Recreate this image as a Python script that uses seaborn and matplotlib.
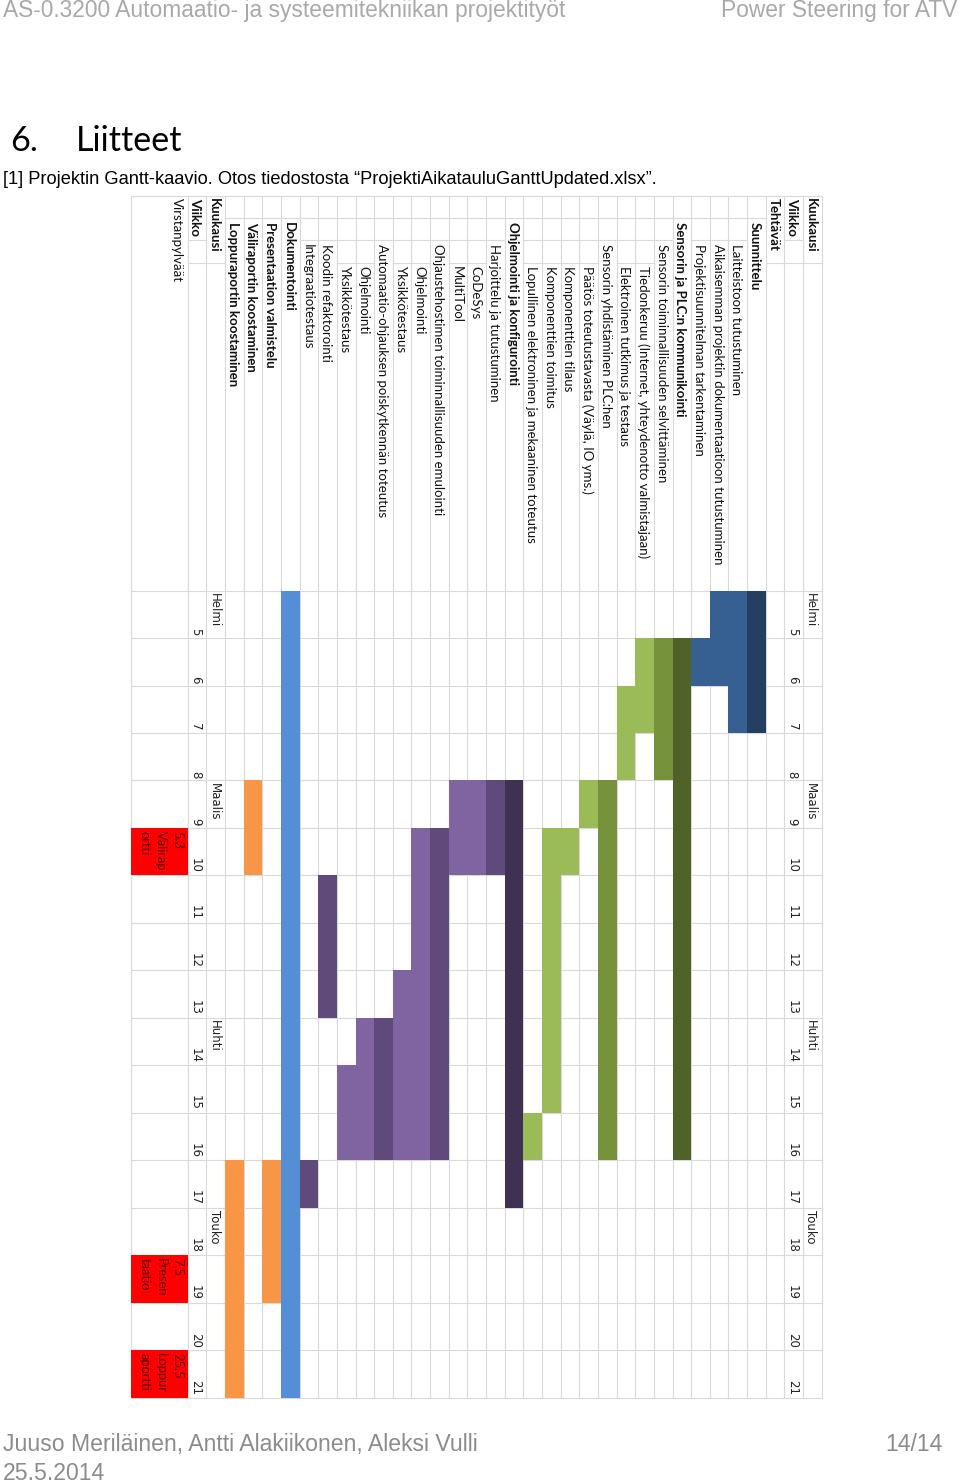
import numpy as np
import pandas as pd
import matplotlib
matplotlib.use("Agg")
import matplotlib.pyplot as plt
from matplotlib.colors import ListedColormap
import seaborn as sns

sns.set_theme(style="white")
plt.rcParams['font.family'] = ['Lato', 'DejaVu Sans']

# ---------------- data ----------------
weeks = list(range(5, 22))
months = ["Helmi", "Maalis", "Huhti", "Touko"]
month_start_weeks = [5, 9, 14, 18]

tasks = [
    "Suunnittelu",
    "Laitteistoon tutustuminen",
    "Aikaisemman projektin dokumentaatioon tutustuminen",
    "Projektisuunnitelman tarkentaminen",
    "Sensorin ja PLC:n kommunikointi",
    "Sensorin toiminnallisuuden selvittäminen",
    "Tiedonkeruu (Internet, yhteydenotto valmistajaan)",
    "Elektroinen tutkimus ja testaus",
    "Sensorin yhdistäminen PLC:hen",
    "Päätös toteutustavasta (Väylä, IO yms.)",
    "Komponenttien tilaus",
    "Komponenttien toimitus",
    "Lopullinen elektroninen ja mekaaninen toteutus",
    "Ohjelmointi ja konfigurointi",
    "Harjoittelu ja tutustuminen",
    "CoDeSys",
    "MultiTool",
    "Ohjaustehostimen toiminnallisuuden emulointi",
    "Ohjelmointi",
    "Yksikkötestaus",
    "Automaatio-ohjauksen poiskytkennän toteutus",
    "Ohjelmointi",
    "Yksikkötestaus",
    "Koodin refaktorointi",
    "Integraatiotestaus",
    "Dokumentointi",
    "Presentaation valmistelu",
    "Väliraportin koostaminen",
    "Loppuraportin koostaminen",
]
task_levels = [1, 2, 2, 2, 1, 2, 3, 3, 2, 3, 3, 3, 3, 1, 2, 3, 3, 2, 3, 3, 2, 3, 3, 2, 2, 1, 1, 1, 1]
task_bold = [True, False, False, False, True, False, False, False, False, False, False, False, False,
             True, False, False, False, False, False, False, False, False, False, False, False,
             True, True, True, True]
task_start = [5, 5, 5, 6, 6, 6, 6, 7, 9, 9, 10, 10, 16, 9, 9, 9, 9, 10, 10, 13, 14, 14, 15, 11, 17, 5, 17, 9, 17]
task_end = [7, 7, 6, 6, 16, 8, 7, 8, 16, 9, 10, 15, 16, 17, 10, 10, 10, 16, 16, 16, 16, 16, 16, 13, 17, 21, 19, 10, 21]
task_colors = [
    "#243F60", "#366092", "#366092", "#366092",
    "#4F6228", "#76933C", "#9BBB59", "#9BBB59", "#76933C", "#9BBB59", "#9BBB59", "#9BBB59", "#9BBB59",
    "#3F3151", "#604A7B", "#8064A2", "#8064A2", "#604A7B", "#8064A2", "#8064A2", "#604A7B",
    "#8064A2", "#8064A2", "#604A7B", "#604A7B",
    "#558ED5", "#F79646", "#F79646", "#F79646",
]

milestone_weeks = [10, 19, 21]
milestone_labels = ["5.3\nVälirap\nortti", "7.5\nPresen\ntaatio", "25.5\nLoppur\naportti"]

header_top = ["Kuukausi", "Viikko", "Tehtävät"]
header_bottom = ["Kuukausi", "Viikko"]
milestone_title = "Virstanpylväät"

page_header_left = "AS-0.3200 Automaatio- ja systeemitekniikan projektityöt"
page_header_right = "Power Steering for ATV"
section_number = "6."
section_title = "Liitteet"
caption = "[1] Projektin Gantt-kaavio. Otos tiedostosta “ProjektiAikatauluGanttUpdated.xlsx”."
footer_authors = "Juuso Meriläinen, Antti Alakiikonen, Aleksi Vulli"
footer_page = "14/14"
footer_date = "25.5.2014"

# ---------------- layout (pixels) ----------------
W, H = 960, 1483
TBL_LEFT = 131.0
GRID_LEFT = 187.7
ROW_W = 18.647
GRID_TOP = 590.6
WEEK_H = 47.47
TBL_TOP = 195.5
LABEL_BOUNDS = [195.5, 217.5, 240.0, 262.5]
LABEL_START = [198.5, 221.5, 243.5, 265.5]
TEXT_DX = -1.5 / ROW_W
GRID_COLOR = "#d9d9d9"
NARROW = ['Liberation Sans Narrow', 'Liberation Sans', 'DejaVu Sans']
CELL_FONT = ['Lato', 'DejaVu Sans']


def X(px):
    return (px - GRID_LEFT) / ROW_W


def Y(py):
    return (py - GRID_TOP) / WEEK_H


n_cols = 34
col_top = {"Kuukausi": 33, "Viikko": 32, "Tehtävät": 31}
col_bottom = {"Kuukausi": 1, "Viikko": 0}


def task_col(i):
    return 30 - i


fig = plt.figure(figsize=(W / 100, H / 100), dpi=100)
fig.patch.set_facecolor("white")
ax = fig.add_axes([0, 0, 1, 1])

palette = list(dict.fromkeys(task_colors))
code = {c: k for k, c in enumerate(palette)}
M = np.full((len(weeks), n_cols), np.nan)
for i, (s, e, c) in enumerate(zip(task_start, task_end, task_colors)):
    for w in range(s, e + 1):
        M[weeks.index(w), task_col(i)] = code[c]
df = pd.DataFrame(M, index=weeks)
sns.heatmap(df, ax=ax, mask=df.isna(), cmap=ListedColormap(palette), vmin=-0.5,
            vmax=len(palette) - 0.5, cbar=False, xticklabels=False, yticklabels=False,
            linewidths=0)
ax.set_xlim(X(0), X(W))
ax.set_ylim(Y(H), Y(0))
ax.set_axis_off()

renderer = fig.canvas.get_renderer()


def fit_size(text, family, target_px, weight="normal", base=10.0):
    t = ax.text(0, 0, text, family=family, weight=weight, size=base)
    w = t.get_window_extent(renderer).width
    t.remove()
    return base * target_px / w


# ---- grid lines ----
ytop = Y(TBL_TOP)
for j in range(n_cols + 1):
    ax.plot([j, j], [ytop, len(weeks)], color=GRID_COLOR, lw=0.8, zorder=0.5)
ax.plot([X(TBL_LEFT)] * 2, [ytop, len(weeks)], color=GRID_COLOR, lw=0.8, zorder=0.5)
for k in range(len(weeks) + 1):
    ax.plot([X(TBL_LEFT), n_cols], [k, k], color=GRID_COLOR, lw=0.8, zorder=0.5)
ax.plot([X(TBL_LEFT), n_cols], [ytop, ytop], color=GRID_COLOR, lw=0.8, zorder=0.5)

# ---- label texts ----
cell_size = fit_size("Aikaisemman projektin dokumentaatioon tutustuminen", CELL_FONT, 322)
row_texts = []


def label(col, text, level, bold):
    t = ax.text(col + 0.5 + TEXT_DX, Y(LABEL_START[level]), text, rotation=-90, ha="center",
                va="top", family=CELL_FONT, size=cell_size,
                weight="bold" if bold else "normal", color="#111111", zorder=3)
    row_texts.append((col, t))


for name in header_top:
    label(col_top[name], name, 0, True)
for i, name in enumerate(tasks):
    label(task_col(i), name, task_levels[i], task_bold[i])
for name in header_bottom:
    label(col_bottom[name], name, 0, True)

ax.text(X(176.5), Y(LABEL_START[0]), milestone_title, rotation=-90, ha="center", va="top",
        family=CELL_FONT, size=cell_size, color="#111111", zorder=3)

# column boundary lines inside the label area (hidden where text overflows)
inv = ax.transData.inverted()
for col, t in row_texts:
    bb = t.get_window_extent(renderer)
    (_, y0), (_, y1) = inv.transform([[bb.x0, bb.y0], [bb.x1, bb.y1]])
    ya, yb = min(y0, y1), max(y0, y1)
    for b in LABEL_BOUNDS[1:]:
        yb_line = Y(b)
        if yb_line < ya or yb_line > yb:
            ax.plot([col, col + 1], [yb_line, yb_line], color=GRID_COLOR, lw=0.8, zorder=0.5)

# ---- week numbers and months ----
wk_size = fit_size("Helmi", ['DejaVu Sans'], 34)
pad = 2.5 / WEEK_H
for col in (col_top["Viikko"], col_bottom["Viikko"]):
    for k, w in enumerate(weeks):
        ax.text(col + 0.5 + TEXT_DX, k + 1 - pad, str(w), rotation=-90, ha="center", va="bottom",
                family=['DejaVu Sans'], size=wk_size, color="#222222", zorder=3)
for col in (col_top["Kuukausi"], col_bottom["Kuukausi"]):
    for m, ws in zip(months, month_start_weeks):
        ax.text(col + 0.5 + TEXT_DX, weeks.index(ws) + pad, m, rotation=-90, ha="center",
                va="top", family=['DejaVu Sans'], size=wk_size, color="#222222", zorder=3)

# ---- milestones (second heatmap) ----
ms_ax = fig.add_axes([TBL_LEFT / W, 1 - (GRID_TOP + len(weeks) * WEEK_H) / H,
                      (GRID_LEFT - TBL_LEFT) / W, len(weeks) * WEEK_H / H])
ms_vals = np.full((len(weeks), 1), np.nan)
ms_annot = np.full((len(weeks), 1), "", dtype=object)
for w, lab in zip(milestone_weeks, milestone_labels):
    ms_vals[weeks.index(w), 0] = 0
    ms_annot[weeks.index(w), 0] = lab
ms_df = pd.DataFrame(ms_vals, index=weeks)
sns.heatmap(ms_df, ax=ms_ax, mask=ms_df.isna(), cmap=ListedColormap(["#FF0000"]), vmin=-0.5,
            vmax=0.5, cbar=False, xticklabels=False, yticklabels=False, annot=ms_annot, fmt="",
            annot_kws=dict(color="#5a0000", rotation=-90, ha="right", va="top",
                           family=CELL_FONT, size=cell_size * 0.97, linespacing=1.45))
ms_ax.patch.set_alpha(0)
ms_ax.set_axis_off()
for t in ms_ax.texts:
    x, y = t.get_position()
    row = int(np.floor(y))
    t.set_position((1 - 4.0 / (GRID_LEFT - TBL_LEFT), row + 3.0 / WEEK_H))
    t.set_multialignment("left")

# ---- page texts ----
hdr_size = fit_size(page_header_left, NARROW, 564)
ax.text(X(3), Y(17), page_header_left, family=NARROW, size=hdr_size, color="#a9a9a9",
        ha="left", va="baseline")
ax.text(X(957), Y(17), page_header_right, family=NARROW, size=hdr_size, color="#a9a9a9",
        ha="right", va="baseline")

sec_size = fit_size(section_title, ['Lato', 'DejaVu Sans'], 107)
ax.text(X(10), Y(151), section_number, family=['Lato', 'DejaVu Sans'], size=sec_size,
        color="black", ha="left", va="baseline")
ax.text(X(76), Y(151), section_title, family=['Lato', 'DejaVu Sans'], size=sec_size,
        color="black", ha="left", va="baseline")

cap_size = fit_size(caption, NARROW, 657)
ax.text(X(3), Y(184), caption, family=NARROW, size=cap_size, color="black",
        ha="left", va="baseline")

ft_size = fit_size(footer_authors, NARROW, 477)
ax.text(X(3), Y(1451), footer_authors, family=NARROW, size=ft_size, color="#8c8c8c",
        ha="left", va="baseline")
ax.text(X(943), Y(1451), footer_page, family=NARROW, size=ft_size, color="#8c8c8c",
        ha="right", va="baseline")
ax.text(X(3), Y(1480), footer_date, family=NARROW, size=ft_size, color="#8c8c8c",
        ha="left", va="baseline")

fig.savefig("out.png", dpi=100, facecolor="white")
